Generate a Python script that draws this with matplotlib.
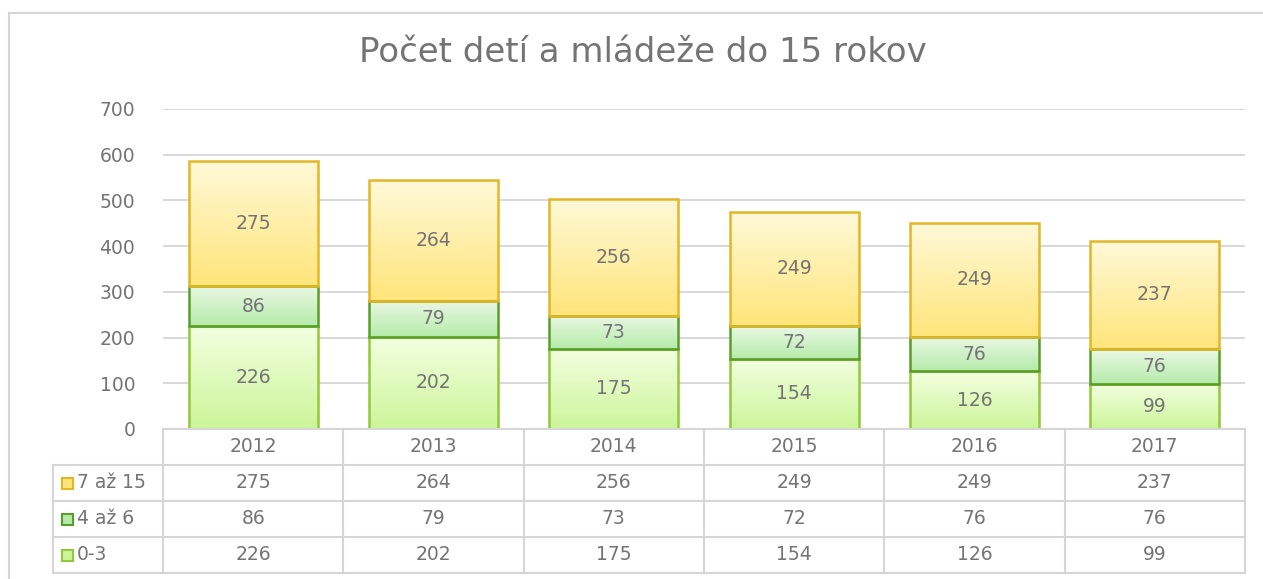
import numpy as np
import matplotlib
matplotlib.use("Agg")
import matplotlib.pyplot as plt
from matplotlib.colors import LinearSegmentedColormap
from matplotlib.patches import Rectangle

# ---- data ----
years = ["2012", "2013", "2014", "2015", "2016", "2017"]
series_names = ["7 až 15", "4 až 6", "0-3"]  # table order (top to bottom)
v_0_3 = [226, 202, 175, 154, 126, 99]
v_4_6 = [86, 79, 73, 72, 76, 76]
v_7_15 = [275, 264, 256, 249, 249, 237]
title = "Počet detí a mládeže do 15 rokov"
yticks = [0, 100, 200, 300, 400, 500, 600, 700]

# ---- style ----
W, H = 1263, 579
DPI = 100
TXT = "#747474"
GRID = "#d6d6d6"
styles = {
    "0-3": dict(top="#f3ffe0", bot="#ccf59a", edge="#92c83a"),
    "4 až 6": dict(top="#eaf8e4", bot="#b5ebaa", edge="#5a9e2a"),
    "7 až 15": dict(top="#fff9d8", bot="#ffe57a", edge="#e2b626"),
}
plt.rcParams["font.family"] = ["DejaVu Sans"]

fig = plt.figure(figsize=(W / DPI, H / DPI), dpi=DPI)
fig.patch.set_facecolor("white")

def fx(px):
    return px / W

def fy(py):
    return 1 - py / H

x0, x1 = 163, 1245
ytop, ybot = 109, 429
ax = fig.add_axes([fx(x0), fy(ybot), fx(x1) - fx(x0), fy(ytop) - fy(ybot)])
n = len(years)
ax.set_xlim(-0.5, n - 0.5)
ax.set_ylim(0, 700)
ax.set_yticks(yticks)
ax.set_yticklabels([str(t) for t in yticks], color=TXT, fontsize=13.5)
ax.tick_params(axis="y", length=0, pad=20)
ax.set_xticks([])
for s in ax.spines.values():
    s.set_visible(False)
ax.grid(axis="y", color=GRID, linewidth=1.3)
ax.set_axisbelow(True)

def grad_cmap(top, bot):
    return LinearSegmentedColormap.from_list("g", [bot, top])

grad = np.linspace(0, 1, 256).reshape(-1, 1)
xs = np.arange(n)
bw = 0.715
bottom = np.zeros(n)
for name, vals in [("0-3", v_0_3), ("4 až 6", v_4_6), ("7 až 15", v_7_15)]:
    st = styles[name]
    bars = ax.bar(xs, vals, width=bw, bottom=bottom, facecolor="none",
                  edgecolor=st["edge"], linewidth=1.8, zorder=3)
    cm = grad_cmap(st["top"], st["bot"])
    for b, v, bt in zip(bars, vals, bottom):
        xl = b.get_x()
        im = ax.imshow(grad, cmap=cm, origin="lower", aspect="auto",
                       extent=[xl, xl + bw, bt, bt + v], zorder=2,
                       interpolation="bilinear")
        im.set_clip_path(b)
        ax.text(b.get_x() + bw / 2, bt + v / 2, str(v), ha="center",
                va="center", color=TXT, fontsize=13.5, zorder=4)
    bottom = bottom + np.array(vals)
ax.set_xlim(-0.5, n - 0.5)
ax.set_ylim(0, 700)

# ---- title ----
fig.text(fx(643), fy(53), title, ha="center", va="center", color=TXT, fontsize=24.5)

# ---- outer border ----
fig.add_artist(plt.Line2D([fx(9), fx(9)], [fy(13), fy(579)], color=GRID, lw=1.5))
fig.add_artist(plt.Line2D([fx(9), fx(1263)], [fy(13), fy(13)], color=GRID, lw=1.5))

# ---- data table ----
row_y = [429, 465, 501, 537, 573]
colw = (x1 - x0) / n
lw = 1.5
fig.add_artist(plt.Line2D([fx(x0), fx(x1)], [fy(429), fy(429)], color=GRID, lw=lw))
for yy in row_y[1:]:
    fig.add_artist(plt.Line2D([fx(53), fx(x1)], [fy(yy), fy(yy)], color=GRID, lw=lw))
fig.add_artist(plt.Line2D([fx(53), fx(53)], [fy(465), fy(573)], color=GRID, lw=lw))
for k in range(n + 1):
    xx = x0 + k * colw
    fig.add_artist(plt.Line2D([fx(xx), fx(xx)], [fy(429), fy(573)], color=GRID, lw=lw))

for i, yr in enumerate(years):
    cx = x0 + (i + 0.5) * colw
    fig.text(fx(cx), fy(447), yr, ha="center", va="center", color=TXT, fontsize=13.5)

table_vals = {"7 až 15": v_7_15, "4 až 6": v_4_6, "0-3": v_0_3}
for r, name in enumerate(series_names):
    cy = (row_y[r + 1] + row_y[r + 2]) / 2
    st = styles[name]
    # legend key
    ks = 11
    kx, ky = 62, cy - ks / 2
    key = Rectangle((fx(kx), fy(ky + ks)), fx(ks), ks / H,
                    transform=fig.transFigure, facecolor=st["bot"],
                    edgecolor=st["edge"], lw=1.5)
    fig.add_artist(key)
    fig.text(fx(77), fy(cy), name, ha="left", va="center", color=TXT, fontsize=13.5)
    for i, v in enumerate(table_vals[name]):
        cx = x0 + (i + 0.5) * colw
        fig.text(fx(cx), fy(cy), str(v), ha="center", va="center", color=TXT, fontsize=13.5)

fig.savefig("out.png", dpi=DPI, facecolor="white")
